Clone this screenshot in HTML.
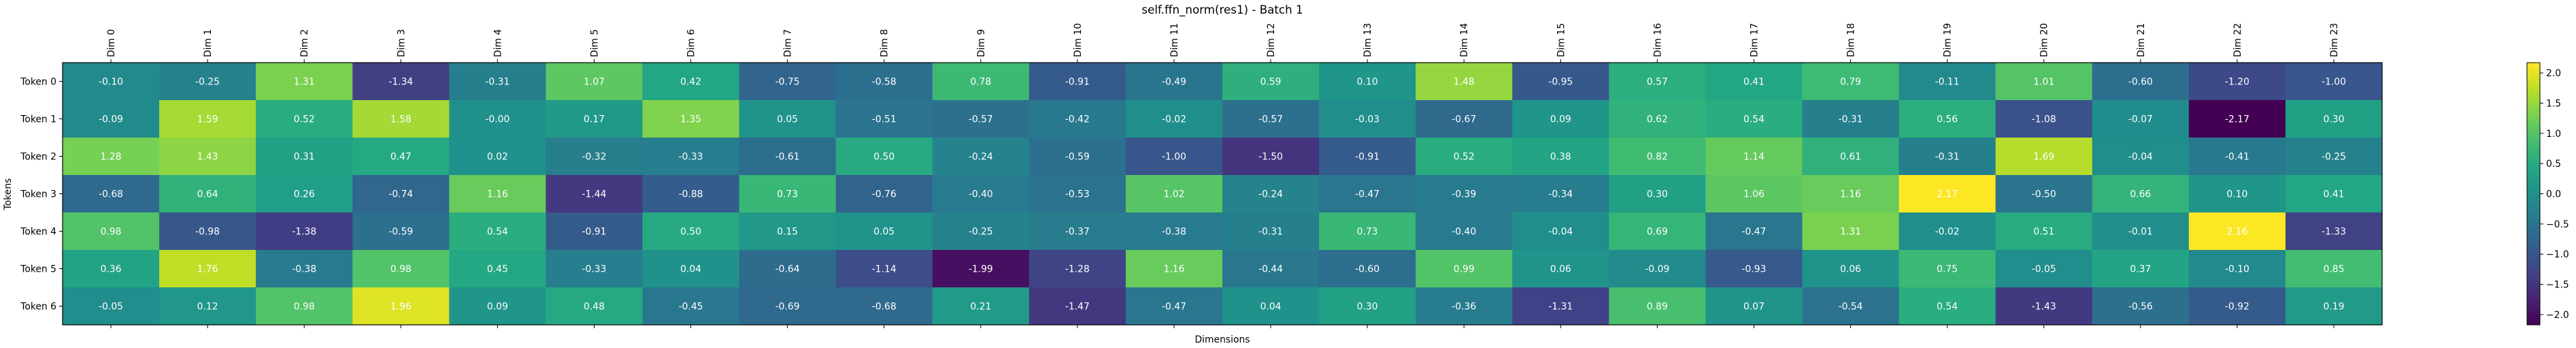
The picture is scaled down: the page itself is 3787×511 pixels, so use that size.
<!DOCTYPE html>
<html><head><meta charset="utf-8"><style>
html,body{margin:0;padding:0;background:#fff;}
svg{display:block;font-family:"DejaVu Sans","Liberation Sans",sans-serif;}
</style></head><body>
<svg id="chart" width="3787" height="511" viewBox="0 0 3787 511" xmlns="http://www.w3.org/2000/svg">
<text x="1797" y="20" font-size="16.7" text-anchor="middle" fill="#000">self.ffn_norm(res1) - Batch 1</text>
<text x="1797" y="503" font-size="13.9" text-anchor="middle" fill="#000">Dimensions</text>
<text x="16" y="285" font-size="13.9" text-anchor="middle" fill="#000" transform="rotate(-90 16 285)">Tokens</text>
<g id="cells"></g>
<g id="xticks"></g>
<g id="yticks"></g>
<defs><linearGradient id="cbgrad" x1="0" y1="1" x2="0" y2="0"></linearGradient></defs>
<g id="cbar"></g>
</svg>
<script>
const categoriesX = Array.from({length:24},(_,i)=>'Dim '+i);
const categoriesY = ['Token 0','Token 1','Token 2','Token 3','Token 4','Token 5','Token 6'];
const row0 = [-0.10,-0.25,1.31,-1.34,-0.31,1.07,0.42,-0.75,-0.58,0.78,-0.91,-0.49,0.59,0.10,1.48,-0.95,0.57,0.41,0.79,-0.11,1.01,-0.60,-1.20,-1.00];
const row1 = [-0.09,1.59,0.52,1.58,-0.00,0.17,1.35,0.05,-0.51,-0.57,-0.42,-0.02,-0.57,-0.03,-0.67,0.09,0.62,0.54,-0.31,0.56,-1.08,-0.07,-2.17,0.30];
const row2 = [1.28,1.43,0.31,0.47,0.02,-0.32,-0.33,-0.61,0.50,-0.24,-0.59,-1.00,-1.50,-0.91,0.52,0.38,0.82,1.14,0.61,-0.31,1.69,-0.04,-0.41,-0.25];
const row3 = [-0.68,0.64,0.26,-0.74,1.16,-1.44,-0.88,0.73,-0.76,-0.40,-0.53,1.02,-0.24,-0.47,-0.39,-0.34,0.30,1.06,1.16,2.17,-0.50,0.66,0.10,0.41];
const row4 = [0.98,-0.98,-1.38,-0.59,0.54,-0.91,0.50,0.15,0.05,-0.25,-0.37,-0.38,-0.31,0.73,-0.40,-0.04,0.69,-0.47,1.31,-0.02,0.51,-0.01,2.16,-1.33];
const row5 = [0.36,1.76,-0.38,0.98,0.45,-0.33,0.04,-0.64,-1.14,-1.99,-1.28,1.16,-0.44,-0.60,0.99,0.06,-0.09,-0.93,0.06,0.75,-0.05,0.37,-0.10,0.85];
const row6 = [-0.05,0.12,0.98,1.96,0.09,0.48,-0.45,-0.69,-0.68,0.21,-1.47,-0.47,0.04,0.30,-0.36,-1.31,0.89,0.07,-0.54,0.54,-1.43,-0.56,-0.92,0.19];
const rows = [row0,row1,row2,row3,row4,row5,row6];
const cbTicks = [-2.0,-1.5,-1.0,-0.5,0.0,0.5,1.0,1.5,2.0];
const vmin = -2.17, vmax = 2.17;

const NS='http://www.w3.org/2000/svg';
const L=92,R=3502,T=92,B=477;
const cw=(R-L)/categoriesX.length, ch=(B-T)/categoriesY.length;
const xPos=i=>L+i*cw, yPos=j=>T+j*ch;
const CBX=3715,CBW=19,CBT=92,CBB=477;
const cbY=v=>CBB-(v-vmin)/(vmax-vmin)*(CBB-CBT);

const vir=[[68,1,84],[72,35,116],[64,67,135],[52,94,141],[41,120,142],[32,144,140],[34,167,132],[68,190,112],[121,209,81],[189,222,38],[253,231,37]];
function color(v){
  let t=Math.max(0,Math.min(1,(v-vmin)/(vmax-vmin)))*(vir.length-1);
  let i=Math.min(vir.length-2,Math.floor(t)),f=t-i;
  const c=vir[i].map((a,k)=>Math.round(a+(vir[i+1][k]-a)*f));
  return `rgb(${c[0]},${c[1]},${c[2]})`;
}
function mk(tag,attrs,parent){const e=document.createElementNS(NS,tag);for(const k in attrs)e.setAttribute(k,attrs[k]);parent.appendChild(e);return e;}
const fmt=v=>{let s=Math.abs(v).toFixed(2);return (v<0||Object.is(v,-0))?'-'+s:s;};

const cells=document.getElementById('cells');
rows.forEach((row,j)=>row.forEach((v,i)=>{
  const r=mk('rect',{x:xPos(i),y:yPos(j),width:cw+0.5,height:ch+0.5,fill:color(v)},cells);
  
  
  const t=mk('text',{x:xPos(i)+cw/2,y:yPos(j)+ch/2+5,'font-size':'13.9','text-anchor':'middle',fill:'#fff'},cells);
  t.textContent=fmt(v);
  
  
}));
const frame=mk('rect',{x:L,y:T,width:R-L,height:B-T,fill:'none',stroke:'#000','stroke-width':1.2},cells);



const xt=document.getElementById('xticks');
categoriesX.forEach((c,i)=>{
  const x=xPos(i)+cw/2;
  mk('line',{x1:x,y1:T-5,x2:x,y2:T,stroke:'#000'},xt);
  mk('line',{x1:x,y1:B,x2:x,y2:B+5,stroke:'#000'},xt);
  const t=mk('text',{x:x+5,y:T-8,'font-size':'13.9',fill:'#000',transform:`rotate(-90 ${x+5} ${T-8})`},xt);
  t.textContent=c;
  
  
});
const yt=document.getElementById('yticks');
categoriesY.forEach((c,j)=>{
  const y=yPos(j)+ch/2;
  mk('line',{x1:L-5,y1:y,x2:L,y2:y,stroke:'#000'},yt);
  const t=mk('text',{x:L-9,y:y+5,'font-size':'13.9','text-anchor':'end',fill:'#000'},yt);
  t.textContent=c;
  
  
});

const g=document.getElementById('cbgrad');
vir.forEach((c,i)=>mk('stop',{offset:(i/(vir.length-1)),'stop-color':`rgb(${c[0]},${c[1]},${c[2]})`},g));
const cb=document.getElementById('cbar');
const cbr=mk('rect',{x:CBX,y:CBT,width:CBW,height:CBB-CBT,fill:'url(#cbgrad)',stroke:'#000','stroke-width':1},cb);


cbTicks.forEach(v=>{
  const y=cbY(v);
  mk('line',{x1:CBX+CBW,y1:y,x2:CBX+CBW+5,y2:y,stroke:'#000'},cb);
  const t=mk('text',{x:CBX+CBW+9,y:y+5,'font-size':'13.9',fill:'#000'},cb);
  t.textContent=v<0?'\u2212'+Math.abs(v).toFixed(1):v.toFixed(1);
  
  
});
</script>
</body></html>
